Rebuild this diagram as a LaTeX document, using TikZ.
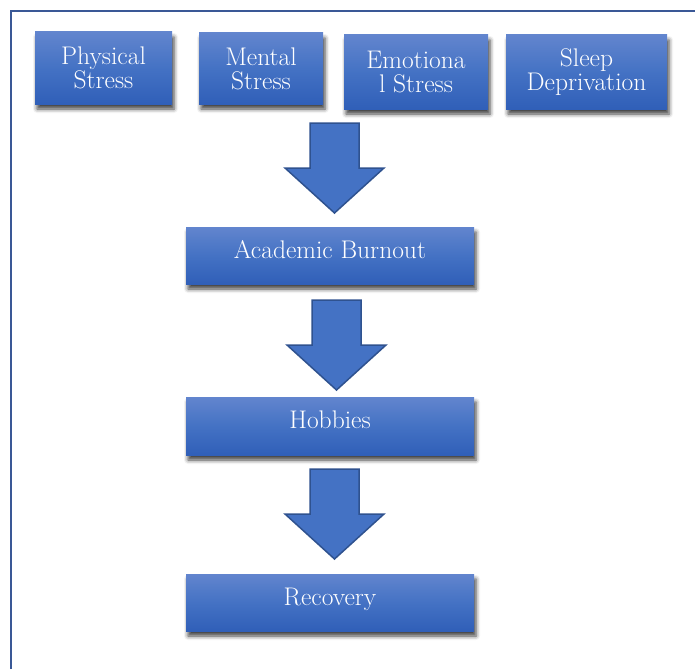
\documentclass[tikz,border=0pt]{standalone}
\usetikzlibrary{shadows.blur}
\definecolor{boxtop}{RGB}{98,133,206}
\definecolor{boxmid}{RGB}{68,114,196}
\definecolor{boxbottom}{RGB}{48,95,184}
\definecolor{arrowfill}{RGB}{68,114,196}
\definecolor{arrowline}{RGB}{47,82,143}
\definecolor{frameline}{RGB}{58,88,150}
\begin{document}
\begin{tikzpicture}[x=1pt,y=-1pt,box_node/.style={rectangle,top color=boxtop,bottom color=boxbottom,middle color=boxmid,text=white,align=center,inner sep=2pt,font=\fontsize{25.5}{24}\selectfont,blur shadow={shadow xshift=2pt,shadow yshift=-5pt,shadow blur radius=4pt,shadow opacity=75}},line_node/.style={box_node,text depth=12pt},arrow_shape/.style={fill=arrowfill,draw=arrowline,line width=1.5pt,line join=miter}]
		
		\useasboundingbox (0,0) rectangle (695,669);
		\draw[frameline,line width=2pt] (11,669) -- (11,11) -- (695,11);
		
		\node[box_node,minimum width=137pt,minimum height=72pt] (physical) at (103.5,68) {Physical\\Stress};
		\node[box_node,minimum width=124pt,minimum height=71pt] (mental) at (261,68.5) {Mental\\Stress};
		\node[box_node,minimum width=144pt,minimum height=74pt] (emotional) at (416,72) {Emotiona\\l Stress};
		\node[box_node,minimum width=161pt,minimum height=74pt] (sleep) at (586.5,72) {Sleep\\Deprivation};
		\node[line_node,minimum width=288pt,minimum height=57pt] (burnout) at (330,255.5) {Academic Burnout};
		\node[line_node,minimum width=288pt,minimum height=58pt] (hobbies) at (330,426) {Hobbies};
		\node[line_node,minimum width=288pt,minimum height=57pt] (recovery) at (330,602.5) {Recovery};
		
		\coordinate (arrow1) at (334.5,123);
		\coordinate (arrow2) at (336.5,300);
		\coordinate (arrow3) at (334.5,469);
		
		\foreach \n in {1,2,3}
		\draw[arrow_shape] (arrow\n) ++(-24.5,0) -- ++(49,0) -- ++(0,45) -- ++(25,0) -- ++(-49.5,45) -- ++(-49.5,-45) -- ++(25,0) -- cycle;
		\end{tikzpicture}
\end{document}
